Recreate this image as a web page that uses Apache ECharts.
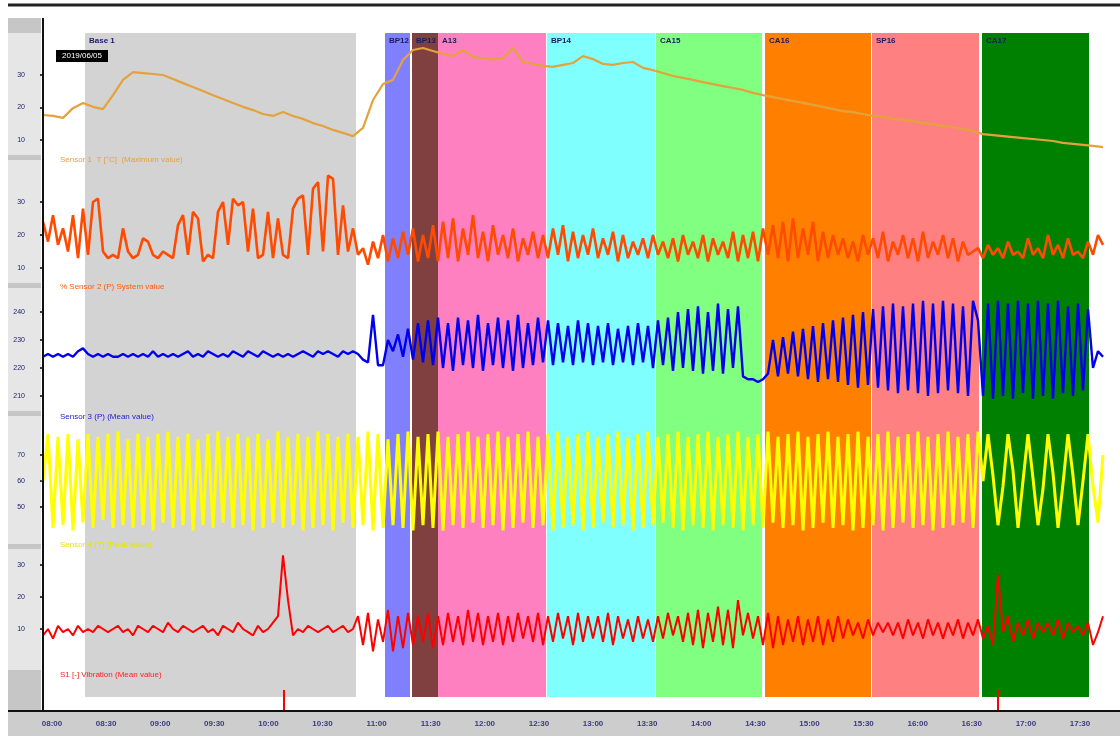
<!DOCTYPE html>
<html>
<head>
<meta charset="utf-8">
<script src="https://cdn.jsdelivr.net/npm/echarts@6/dist/echarts.min.js"></script>
<style>
  html, body { margin: 0; padding: 0; background: #fff; }
  #chart { width: 1120px; height: 744px; }
</style>
</head>
<body>
<div id="chart"></div>
<script>
// time axis labels (bottom strip)
const timeLabels = ['08:00', '08:30', '09:00', '09:30', '10:00', '10:30', '11:00', '11:30', '12:00', '12:30',
  '13:00', '13:30', '14:00', '14:30', '15:00', '15:30', '16:00', '16:30', '17:00', '17:30'];

// test phases (time in samples)
const phaseNames = ['Base 1', 'BP12', 'BP13', 'A13', 'BP14', 'CA15', 'CA16', 'SP16', 'CA17'];
const phaseStart = [8.4, 68.4, 73.8, 79.0, 100.8, 122.6, 144.4, 165.8, 187.8];
const phaseEnd = [62.6, 73.4, 79.0, 100.6, 122.4, 143.8, 165.6, 187.2, 209.2];
const phaseColors = ['#d3d3d3', '#8080ff', '#804040', '#ff80c0', '#80ffff', '#80ff80', '#ff8000', '#ff8080', '#008000'];

const eventTimes = [48.2, 191];

// channel 1, sampled every 2 samples
const tempValues = [
  17.7, 17.4, 16.8, 19.8, 21.4, 20.2, 19.5, 23.8, 28.5, 30.9,
  30.6, 30.3, 30.0, 28.8, 27.5, 26.3, 25.1, 23.8, 22.6, 21.4,
  20.2, 19.2, 18.0, 17.4, 18.6, 17.4, 16.5, 15.2, 14.3, 13.1,
  12.2, 11.2, 13.7, 22.3, 27.2, 28.5, 34.6, 37.7, 38.3, 37.4,
  36.5, 35.8, 37.7, 35.5, 35.2, 34.9, 35.2, 38.3, 34.0, 33.4,
  32.8, 32.5, 33.1, 33.7, 35.8, 34.9, 33.4, 33.1, 33.7, 34.0,
  32.2, 31.5, 30.6, 29.7, 29.1, 28.5, 27.8, 27.2, 26.6, 26.0,
  25.4, 24.5, 23.8, 23.2, 22.6, 22.0, 21.4, 20.8, 20.2, 19.5,
  18.9, 18.6, 18.0, 17.4, 17.1, 16.5, 16.2, 15.8, 15.2, 14.9,
  14.3, 14.0, 13.4, 12.8, 11.8, 11.5, 11.2, 10.9, 10.6, 10.3,
  10.0, 9.7, 9.1, 8.8, 8.5, 8.2, 7.8
];

const systemValues = [
  24, 18, 26, 17, 22, 15, 26, 13, 28, 14,
  30, 31, 15, 13, 14, 13, 22, 15, 13, 14,
  19, 18, 14, 13, 15, 14, 13, 23, 26, 14,
  27, 25, 12, 14, 13, 27, 30, 17, 31, 29,
  30, 15, 28, 13, 14, 27, 13, 25, 14, 13,
  28, 31, 32, 14, 34, 36, 15, 38, 37, 14,
  29, 15, 22, 14, 16, 11, 18, 13, 20, 12,
  19, 13, 21, 14, 22, 12, 20, 13, 23, 12,
  24, 13, 25, 12, 22, 14, 26, 13, 21, 12,
  23, 14, 20, 13, 22, 12, 19, 14, 21, 13,
  20, 13, 22, 14, 23, 12, 21, 13, 20, 14,
  22, 13, 19, 14, 21, 12, 20, 13, 18, 14,
  19, 13, 20, 14, 18, 13, 19, 12, 20, 14,
  18, 13, 20, 12, 19, 14, 18, 13, 21, 12,
  20, 13, 21, 12, 22, 14, 23, 13, 24, 12,
  25, 13, 22, 14, 24, 12, 21, 13, 20, 14,
  19, 13, 18, 12, 20, 14, 19, 13, 21, 12,
  18, 14, 20, 13, 19, 12, 21, 13, 18, 14,
  20, 13, 19, 12, 18, 14, 15, 16, 13, 17,
  14, 16, 13, 18, 14, 15, 13, 19, 14, 16,
  13, 20, 14, 17, 13, 19, 14, 15, 13, 18,
  14, 20, 17
];

const meanValues = [
  224, 225, 224, 225, 224, 225, 224, 226, 227, 225,
  224, 225, 224, 225, 224, 224, 225, 224, 225, 224,
  225, 224, 226, 224, 225, 224, 225, 224, 225, 226,
  224, 225, 224, 226, 225, 224, 225, 224, 226, 225,
  224, 226, 225, 224, 226, 225, 224, 225, 224, 225,
  224, 225, 226, 225, 224, 226, 225, 226, 225, 224,
  226, 225, 226, 225, 223, 222, 239, 221, 221, 230,
  226, 232, 224, 234, 223, 236, 222, 237, 221, 238,
  220, 236, 219, 238, 221, 237, 220, 239, 219, 236,
  221, 238, 220, 237, 219, 239, 220, 236, 221, 238,
  222, 237, 221, 236, 222, 235, 221, 237, 222, 236,
  221, 235, 222, 236, 221, 234, 222, 235, 221, 236,
  222, 235, 220, 237, 221, 238, 219, 240, 220, 241,
  219, 242, 218, 240, 219, 243, 218, 241, 220, 242,
  217, 216, 216, 215, 216, 218, 230, 217, 231, 218,
  233, 217, 234, 216, 235, 215, 236, 216, 237, 215,
  238, 214, 239, 213, 240, 214, 241, 213, 242, 212,
  243, 211, 242, 212, 243, 211, 244, 210, 243, 211,
  244, 212, 243, 211, 242, 210, 244, 237, 210, 243,
  209, 244, 210, 243, 209, 244, 211, 243, 209, 244,
  210, 243, 209, 244, 211, 242, 210, 243, 212, 241,
  220, 226, 224
];

const peakValues = [
  60, 78, 42, 77, 43, 78, 41, 76, 44, 78,
  42, 77, 45, 78, 42, 79, 43, 76, 42, 78,
  43, 77, 41, 78, 44, 79, 42, 77, 43, 78,
  41, 76, 43, 78, 42, 79, 44, 77, 42, 78,
  43, 77, 41, 78, 42, 76, 44, 79, 42, 77,
  43, 78, 41, 77, 42, 79, 43, 78, 41, 77,
  44, 78, 42, 77, 43, 79, 41, 78, 42, 76,
  43, 78, 42, 79, 41, 77, 43, 78, 42, 79,
  41, 77, 43, 78, 42, 79, 44, 77, 42, 78,
  43, 79, 41, 77, 42, 78, 44, 79, 42, 77,
  43, 78, 41, 79, 42, 77, 43, 78, 41, 79,
  42, 77, 44, 78, 42, 79, 43, 77, 41, 78,
  42, 79, 43, 77, 44, 78, 42, 79, 41, 77,
  43, 78, 42, 79, 41, 77, 43, 78, 42, 79,
  41, 77, 43, 78, 42, 79, 44, 77, 42, 78,
  43, 79, 41, 77, 42, 78, 44, 79, 42, 77,
  43, 78, 41, 79, 42, 77, 43, 78, 41, 79,
  42, 77, 44, 78, 42, 79, 43, 77, 41, 78,
  42, 79, 43, 77, 44, 78, 42, 79, 60, 78,
  62, 43, 58, 78, 64, 42, 60, 78, 61, 43,
  57, 78, 63, 42, 59, 78, 62, 43, 60, 78,
  58, 44, 70
];

const vibrationValues = [
  8, 10, 7, 11, 9, 10, 8, 11, 9, 10,
  9, 11, 10, 9, 10, 11, 9, 10, 8, 11,
  10, 9, 11, 10, 9, 12, 10, 9, 11, 10,
  9, 10, 11, 9, 10, 8, 11, 10, 9, 12,
  10, 9, 8, 11, 9, 10, 12, 14, 33, 19,
  8, 10, 9, 11, 10, 9, 10, 11, 9, 10,
  11, 9, 10, 14, 5, 15, 3, 13, 6, 16,
  3, 14, 4, 15, 5, 14, 6, 15, 4, 14,
  5, 15, 6, 14, 5, 16, 6, 15, 5, 14,
  6, 15, 5, 14, 6, 15, 7, 14, 6, 15,
  5, 14, 6, 15, 7, 14, 5, 15, 6, 14,
  7, 14, 6, 15, 5, 14, 7, 13, 6, 14,
  7, 13, 6, 14, 7, 15, 8, 14, 6, 15,
  5, 16, 4, 15, 6, 17, 5, 16, 4, 19,
  8, 15, 7, 14, 5, 15, 4, 14, 5, 13,
  6, 14, 5, 13, 6, 14, 5, 13, 6, 14,
  7, 13, 8, 12, 7, 13, 8, 12, 9, 12,
  8, 12, 7, 13, 8, 12, 7, 13, 8, 12,
  7, 12, 8, 13, 7, 12, 8, 13, 7, 11,
  5, 27, 9, 14, 6, 12, 8, 13, 7, 12,
  9, 12, 8, 13, 7, 12, 9, 11, 8, 12,
  5, 9, 14
];

const FONT = 'Liberation Sans, Arial, sans-serif';
const T_MAX = 212;
const LEFT = 43, RIGHT = 17;

const channels = [
  { title: 'Sensor 1  T [°C]  (Maximum value)', values: tempValues, step: 2, color: '#e4a23c',
    top: 42.5, height: 130, min: 0, max: 40, interval: 10, titleY: 156, width: 2.2 },
  { title: '% Sensor 2 (P) System value', values: systemValues, step: 1, color: '#ff4a00',
    top: 169, height: 132, min: 0, max: 40, interval: 10, titleY: 283, width: 2.6 },
  { title: 'Sensor 3 (P) (Mean value)', values: meanValues, step: 1, color: '#0000ee',
    top: 284, height: 140, min: 200, max: 250, interval: 10, titleY: 413, width: 2.4 },
  { title: 'Sensor 4 (T) (Peak value)', values: peakValues, step: 1, color: '#ffff00',
    top: 429, height: 104, min: 40, max: 80, interval: 10, titleY: 541, width: 3 },
  { title: 'S1 [-] Vibration (Mean value)', values: vibrationValues, step: 1, color: '#ff0000',
    top: 533, height: 128, min: 0, max: 40, interval: 10, titleY: 671, width: 2 }
];
const titleColors = ['#e4a23c', '#ff5a10', '#2020d0', '#e6e600', '#ff2020'];

const grids = [];
const xAxes = [];
const yAxes = [];
const series = [];

// 0: phase bands
grids.push({ left: LEFT, right: RIGHT, top: 33, bottom: 47 });
xAxes.push({ gridIndex: 0, type: 'value', min: 0, max: T_MAX, show: false });
yAxes.push({ gridIndex: 0, type: 'value', min: 0, max: 1, show: false });
series.push({
  type: 'line', xAxisIndex: 0, yAxisIndex: 0, data: [[0, 0]], showSymbol: false, silent: true,
  lineStyle: { opacity: 0 }, z: 0,
  markArea: {
    silent: true,
    label: { show: true, position: 'insideTopLeft', color: '#1a1a60', fontSize: 8, fontWeight: 'bold',
      fontFamily: FONT, distance: 4 },
    data: phaseNames.map((n, i) => [
      { name: n, xAxis: phaseStart[i], itemStyle: { color: phaseColors[i], opacity: 1 } },
      { xAxis: phaseEnd[i] }
    ])
  }
});

// 1..5: channels
channels.forEach((c, k) => {
  const g = k + 1;
  grids.push({ left: LEFT, right: RIGHT, top: c.top, height: c.height });
  xAxes.push({ gridIndex: g, type: 'value', min: 0, max: T_MAX, show: false });
  yAxes.push({
    gridIndex: g, type: 'value', min: c.min, max: c.max, interval: c.interval,
    splitLine: { show: false }, axisLine: { show: false },
    axisTick: { show: true, length: 3, lineStyle: { color: '#000', width: 1.5 } },
    axisLabel: { showMinLabel: false, showMaxLabel: false, fontSize: 7, color: '#202070',
      fontFamily: FONT, margin: 18 }
  });
  series.push({
    type: 'line', xAxisIndex: g, yAxisIndex: g, showSymbol: false, silent: true, z: 3,
    data: c.values.map((v, i) => [i * c.step, v]),
    lineStyle: { color: c.color, width: c.width }
  });
});

// 6: event markers under the bands
grids.push({ left: LEFT, right: RIGHT, top: 690, height: 21 });
xAxes.push({ gridIndex: 6, type: 'value', min: 0, max: T_MAX, show: false });
yAxes.push({ gridIndex: 6, type: 'value', min: 0, max: 1, show: false });
series.push({
  type: 'line', xAxisIndex: 6, yAxisIndex: 6, data: [[0, 0]], showSymbol: false, silent: true,
  lineStyle: { opacity: 0 },
  markLine: {
    silent: true, symbol: ['none', 'none'], label: { show: false },
    lineStyle: { color: '#ff0000', width: 2, type: 'solid' },
    data: eventTimes.map(t => ({ xAxis: t }))
  }
});

// 7: time labels
grids.push({ left: 52, right: 40, top: 710, height: 2 });
xAxes.push({
  gridIndex: 7, type: 'category', data: timeLabels, boundaryGap: false,
  axisLine: { show: false }, axisTick: { show: false },
  axisLabel: { fontSize: 8, color: '#3b3b80', fontFamily: FONT, fontWeight: 'bold', margin: 8, interval: 0 }
});
yAxes.push({ gridIndex: 7, type: 'value', show: false });

const graphic = [
  // left panel
  { type: 'rect', shape: { x: 8, y: 18, width: 33, height: 693 }, style: { fill: '#e6e6e6' }, z: -1 },
  { type: 'rect', shape: { x: 8, y: 18, width: 33, height: 15 }, style: { fill: '#c6c6c6' }, z: -1 },
  { type: 'rect', shape: { x: 8, y: 155, width: 33, height: 5 }, style: { fill: '#c6c6c6' }, z: -1 },
  { type: 'rect', shape: { x: 8, y: 283, width: 33, height: 5 }, style: { fill: '#c6c6c6' }, z: -1 },
  { type: 'rect', shape: { x: 8, y: 411, width: 33, height: 5 }, style: { fill: '#c6c6c6' }, z: -1 },
  { type: 'rect', shape: { x: 8, y: 544, width: 33, height: 5 }, style: { fill: '#c6c6c6' }, z: -1 },
  { type: 'rect', shape: { x: 8, y: 670, width: 33, height: 41 }, style: { fill: '#c6c6c6' }, z: -1 },
  // bottom label strip
  { type: 'rect', shape: { x: 8, y: 712, width: 1112, height: 24 }, style: { fill: '#cdcdcd' }, z: -1 },
  // frame lines
  { type: 'line', shape: { x1: 8, y1: 5, x2: 1120, y2: 5 }, style: { stroke: '#222', lineWidth: 3 }, z: 50 },
  { type: 'line', shape: { x1: 8, y1: 711, x2: 1120, y2: 711 }, style: { stroke: '#111', lineWidth: 2 }, z: 50 },
  { type: 'line', shape: { x1: 43, y1: 18, x2: 43, y2: 711 }, style: { stroke: '#111', lineWidth: 2 }, z: 50 },
  // date badge
  { type: 'rect', shape: { x: 56, y: 50, width: 52, height: 12 }, style: { fill: '#000' }, z: 60 },
  { type: 'text', x: 82, y: 56, style: { text: '2019/06/05', fill: '#fff', fontSize: 8, fontFamily: FONT,
    align: 'center', verticalAlign: 'middle' }, z: 61 }
];
channels.forEach((c, k) => {
  graphic.push({
    type: 'text', x: 60, y: c.titleY,
    style: { text: c.title, fill: titleColors[k], fontSize: 8, fontFamily: FONT },
    z: 60
  });
});

const chart = echarts.init(document.getElementById('chart'));
chart.setOption({
  animation: false,
  backgroundColor: '#ffffff',
  grid: grids,
  xAxis: xAxes,
  yAxis: yAxes,
  series: series,
  graphic: graphic
});
</script>
</body>
</html>
